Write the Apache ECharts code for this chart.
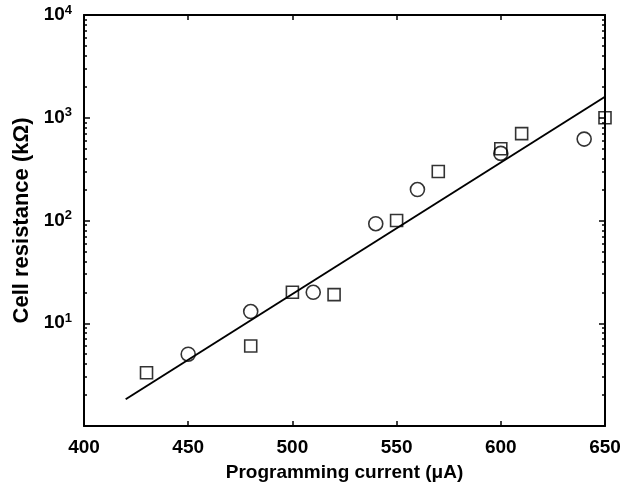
<!DOCTYPE html>
<html>
<head>
<meta charset="utf-8">
<script src="https://cdn.jsdelivr.net/npm/echarts@6/dist/echarts.min.js"></script>
<style>
  html, body { margin: 0; padding: 0; background: #fff; }
  #chart { width: 644px; height: 491px; }
</style>
</head>
<body>
<div id="chart"></div>
<script>
// square markers
let squareX = [430, 480, 500, 520, 550, 570, 600, 610, 650]
let squareY = [3.3, 6, 20, 19, 100, 300, 500, 700, 1000]
// circle markers
let circleX = [450, 480, 510, 540, 560, 600, 640]
let circleY = [5, 13, 20, 93, 200, 450, 620]
// fitted line (straight on the log scale)
let fitX = [420, 650]
let fitY = [1.82, 1600]

let xTicks = [400, 450, 500, 550, 600, 650]
let yDecades = [1, 10, 100, 1000, 10000]

// minor log ticks 2..9 in each decade
let minorTicks = []
yDecades.slice(0, -1).forEach(function (d) {
    for (let k = 2; k <= 9; k++) minorTicks.push(d * k)
})

let font = '"Liberation Sans", Arial, sans-serif'

function pairs(xs, ys) {
    return xs.map(function (x, i) { return [x, ys[i]] })
}

let yLabel = {
    margin: 12,
    fontFamily: font,
    formatter: function (v) {
        let e = Math.round(Math.log10(v))
        if (e === 0) return ''
        return '{b|10}{s|' + e + '}'
    },
    rich: {
        b: { fontFamily: font, fontWeight: 'bold', fontSize: 19, color: '#000' },
        s: { fontFamily: font, fontWeight: 'bold', fontSize: 13, color: '#000', verticalAlign: 'top', padding: [0, 0, 10, 0] }
    }
}

let logBase = {
    type: 'log',
    logBase: 10,
    min: 1,
    max: 10000,
    splitLine: { show: false }
}

let chart = echarts.init(document.getElementById('chart'))
chart.setOption({
    backgroundColor: '#fff',
    animation: false,
    grid: { left: 84, right: 39, top: 15, bottom: 65 },
    xAxis: [
        {
            type: 'value', position: 'bottom', min: 400, max: 650, interval: 50,
            name: 'Programming current (μA)', nameLocation: 'middle', nameGap: 37,
            nameTextStyle: { fontFamily: font, fontWeight: 'bold', fontSize: 19, color: '#000' },
            axisLine: { lineStyle: { color: '#000', width: 2 } },
            axisTick: { inside: true, length: 5, lineStyle: { color: '#000', width: 1.5 }, customValues: xTicks },
            axisLabel: { margin: 12, fontFamily: font, fontWeight: 'bold', fontSize: 19, color: '#000', customValues: xTicks },
            splitLine: { show: false }
        },
        {
            type: 'value', position: 'top', min: 400, max: 650, interval: 50,
            axisLine: { lineStyle: { color: '#000', width: 2 } },
            axisTick: { inside: true, length: 5, lineStyle: { color: '#000', width: 1.5 } },
            axisLabel: { show: false },
            splitLine: { show: false }
        }
    ],
    yAxis: [
        Object.assign({}, logBase, {
            position: 'left',
            name: 'Cell resistance (kΩ)', nameLocation: 'middle', nameGap: 41, nameRotate: 90,
            nameTextStyle: { fontFamily: font, fontWeight: 'bold', fontSize: 22, color: '#000' },
            axisLine: { lineStyle: { color: '#000', width: 2 } },
            axisTick: { inside: true, length: 6, lineStyle: { color: '#000', width: 1.5 } },
            axisLabel: yLabel
        }),
        Object.assign({}, logBase, {
            position: 'left',
            axisLine: { show: false },
            axisTick: { inside: true, length: 3, lineStyle: { color: '#000', width: 1.5 }, customValues: minorTicks },
            axisLabel: { show: false }
        }),
        Object.assign({}, logBase, {
            position: 'right',
            axisLine: { lineStyle: { color: '#000', width: 2 } },
            axisTick: { inside: true, length: 6, lineStyle: { color: '#000', width: 1.5 } },
            axisLabel: { show: false }
        }),
        Object.assign({}, logBase, {
            position: 'right',
            axisLine: { show: false },
            axisTick: { inside: true, length: 3, lineStyle: { color: '#000', width: 1.5 }, customValues: minorTicks },
            axisLabel: { show: false }
        })
    ],
    series: [
        {
            type: 'line',
            xAxisIndex: 0, yAxisIndex: 0,
            data: pairs(fitX, fitY),
            showSymbol: false,
            lineStyle: { color: '#000', width: 2 },
            z: 3
        },
        {
            type: 'scatter',
            xAxisIndex: 0, yAxisIndex: 0,
            data: pairs(squareX, squareY),
            symbol: 'rect', symbolSize: 12,
            clip: false,
            itemStyle: { color: 'transparent', borderColor: '#000', borderWidth: 1.6 },
            z: 4
        },
        {
            type: 'scatter',
            xAxisIndex: 0, yAxisIndex: 0,
            data: pairs(circleX, circleY),
            symbol: 'circle', symbolSize: 14,
            clip: false,
            itemStyle: { color: 'transparent', borderColor: '#000', borderWidth: 1.6 },
            z: 4
        }
    ]
})
</script>
</body>
</html>
